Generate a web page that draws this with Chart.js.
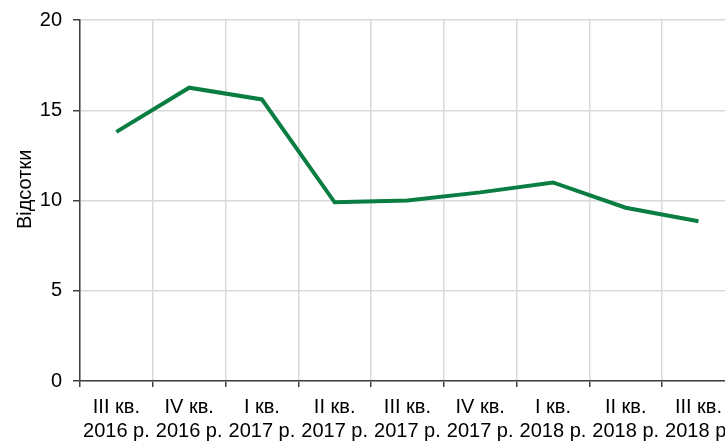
<!DOCTYPE html>
<html>
<head>
<meta charset="utf-8">
<script src="https://cdn.jsdelivr.net/npm/chart.js@4/dist/chart.umd.min.js"></script>
<style>
  html, body { margin: 0; padding: 0; background: #fff; overflow: hidden; }
  #wrap { width: 740px; height: 444px; margin-top: -3px; }
</style>
</head>
<body>
<div id="wrap"><canvas id="chart"></canvas></div>
<script>
// quarters, two-line labels
const quarters = [
  ['III кв.', '2016 р.'],
  ['IV кв.', '2016 р.'],
  ['I кв.', '2017 р.'],
  ['II кв.', '2017 р.'],
  ['III кв.', '2017 р.'],
  ['IV кв.', '2017 р.'],
  ['I кв.', '2018 р.'],
  ['II кв.', '2018 р.'],
  ['III кв.', '2018 р.']
];
const percents = [13.8, 16.25, 15.6, 9.9, 10.0, 10.45, 11.0, 9.6, 8.85];
const yTitle = 'Відсотки';

const FONT = 'Liberation Sans, Arial, sans-serif';
Chart.defaults.font.family = FONT;
Chart.defaults.color = '#000';

new Chart(document.getElementById('chart'), {
  type: 'line',
  data: {
    labels: quarters,
    datasets: [{
      data: percents,
      borderColor: '#0a7d42',
      borderWidth: 4,
      pointRadius: 0,
      tension: 0,
      fill: false
    }]
  },
  options: {
    responsive: true,
    maintainAspectRatio: false,
    animation: false,
    layout: { padding: { top: 6, right: 3, bottom: 0, left: 0 } },
    plugins: { legend: { display: false }, tooltip: { enabled: false } },
    scales: {
      x: {
        offset: true,
        grid: {
          offset: true,
          color: '#d9d9d9',
          lineWidth: 1.5,
          drawTicks: true,
          tickLength: 6,
          tickColor: '#404040'
        },
        border: { color: '#404040', width: 1.5 },
        ticks: {
          font: { size: 20 },
          padding: 8,
          maxRotation: 0,
          autoSkip: false
        },
        afterFit: s => { s.height = 60; }
      },
      y: {
        min: 0,
        max: 20,
        grid: {
          color: '#d9d9d9',
          lineWidth: 1.5,
          tickLength: 7,
          tickColor: '#404040'
        },
        border: { color: '#404040', width: 1.5 },
        ticks: { stepSize: 5, font: { size: 20 }, padding: 11 },
        // leading spaces nudge the title up a little, as in the original
        title: { display: true, text: '    ' + yTitle, font: { size: 20 }, padding: { top: 13, bottom: 4 } },
        afterFit: s => { s.width = 80; }
      }
    }
  }
});
</script>
</body>
</html>
